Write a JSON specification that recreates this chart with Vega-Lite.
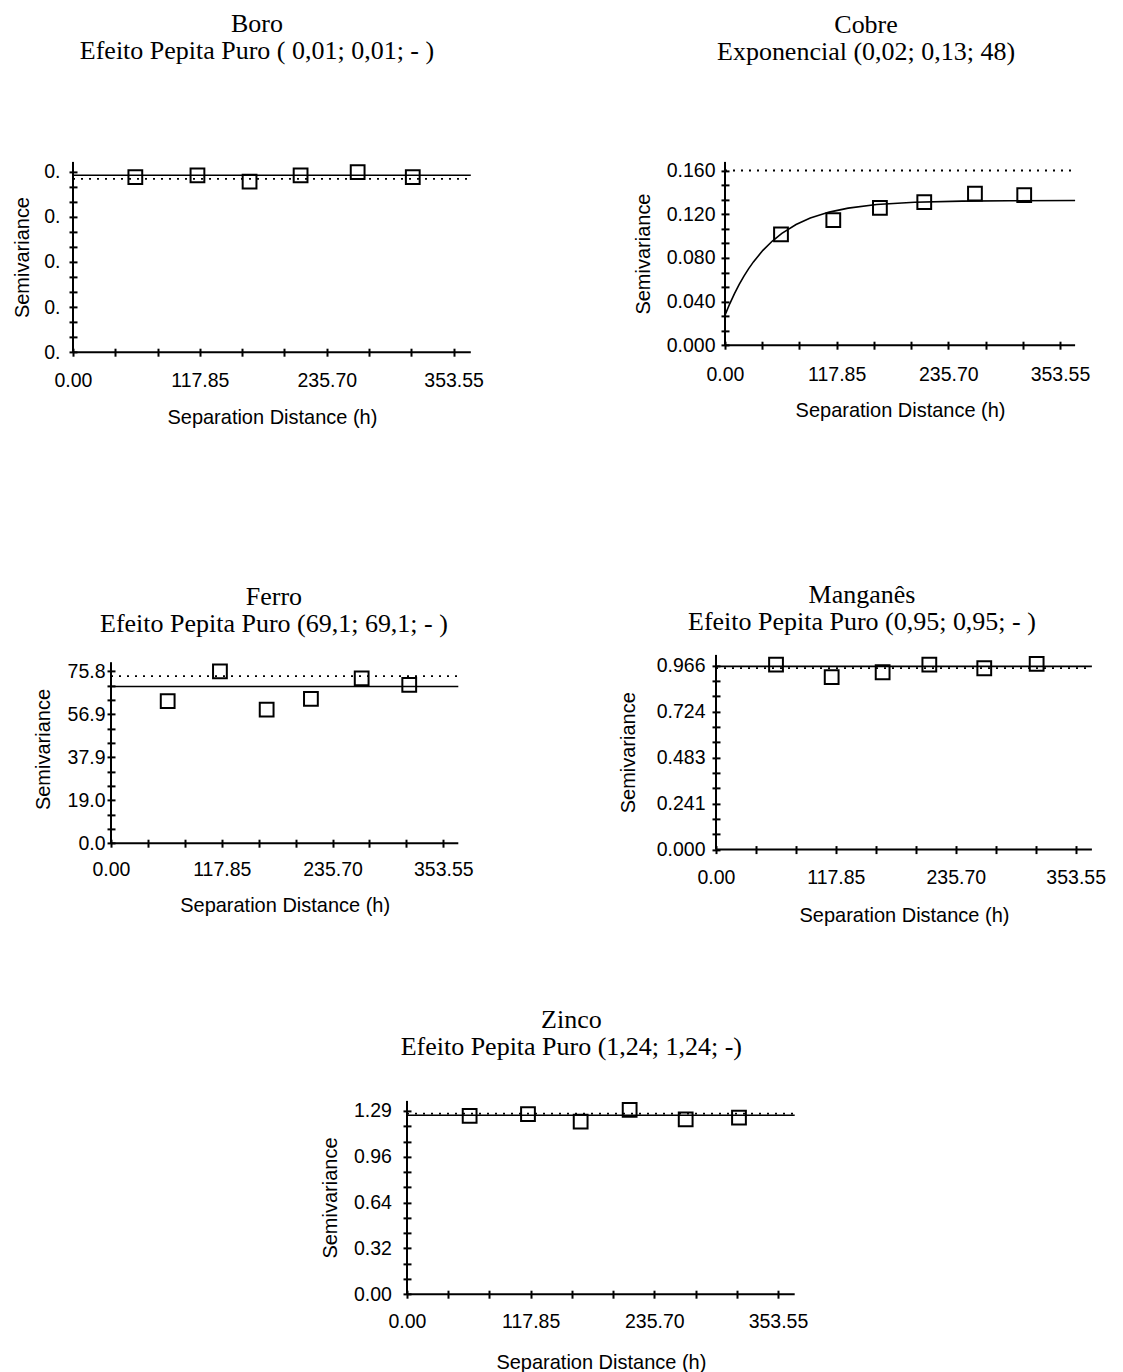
{
  "$schema": "https://vega.github.io/schema/vega-lite/v6.json",
  "background": "white",
  "padding": {"left": 0, "top": 10.9, "right": 0, "bottom": 0},
  "config": {
    "view": {"stroke": null},
    "concat": {"spacing": 0},
    "axis": {
      "labelFont": "Liberation Sans", "labelFontSize": 19.5, "labelColor": "#000",
      "titleFont": "Liberation Sans", "titleFontSize": 20, "titleFontWeight": "normal", "titleColor": "#000",
      "tickColor": "#000", "tickWidth": 2, "tickSize": 8, "offset": -4, "domain": false, "grid": false,
      "labelFlush": false, "labelOverlap": false, "titleBaseline": "middle", "tickCount": 100
    },
    "title": {"font": "Liberation Serif", "fontSize": 26, "fontWeight": "normal", "color": "#000", "lineHeight": 27, "anchor": "middle", "frame": "group"}
  },
  "datasets": {
    "boro": [
      {"serie": "experimental", "h": 57.9, "gamma": 0.009888},
      {"serie": "experimental", "h": 115.6, "gamma": 0.009982},
      {"serie": "experimental", "h": 164.0, "gamma": 0.009634},
      {"serie": "experimental", "h": 211.4, "gamma": 0.009982},
      {"serie": "experimental", "h": 264.4, "gamma": 0.01017},
      {"serie": "experimental", "h": 315.6, "gamma": 0.009888},
      {"serie": "modelo", "h": 0, "gamma": 0.00999},
      {"serie": "modelo", "h": 369.5, "gamma": 0.00999},
      {"serie": "variancia", "h": 0, "gamma": 0.009784},
      {"serie": "variancia", "h": 369.5, "gamma": 0.009784}
    ],
    "cobre": [
      {"serie": "experimental", "h": 59.1, "gamma": 0.1014},
      {"serie": "experimental", "h": 114.3, "gamma": 0.1145},
      {"serie": "experimental", "h": 163.5, "gamma": 0.1258},
      {"serie": "experimental", "h": 210.3, "gamma": 0.1310},
      {"serie": "experimental", "h": 263.8, "gamma": 0.1389},
      {"serie": "experimental", "h": 315.8, "gamma": 0.1374},
      {"serie": "modelo", "h": 0, "gamma": 0.0275},
      {"serie": "modelo", "h": 5, "gamma": 0.0379},
      {"serie": "modelo", "h": 10, "gamma": 0.0473},
      {"serie": "modelo", "h": 15, "gamma": 0.0557},
      {"serie": "modelo", "h": 20, "gamma": 0.0633},
      {"serie": "modelo", "h": 25, "gamma": 0.0701},
      {"serie": "modelo", "h": 30, "gamma": 0.0763},
      {"serie": "modelo", "h": 40, "gamma": 0.0869},
      {"serie": "modelo", "h": 50, "gamma": 0.0954},
      {"serie": "modelo", "h": 60, "gamma": 0.1024},
      {"serie": "modelo", "h": 75, "gamma": 0.1105},
      {"serie": "modelo", "h": 90, "gamma": 0.1164},
      {"serie": "modelo", "h": 110, "gamma": 0.1219},
      {"serie": "modelo", "h": 130, "gamma": 0.1255},
      {"serie": "modelo", "h": 160, "gamma": 0.1288},
      {"serie": "modelo", "h": 200, "gamma": 0.1309},
      {"serie": "modelo", "h": 250, "gamma": 0.1319},
      {"serie": "modelo", "h": 300, "gamma": 0.1323},
      {"serie": "modelo", "h": 369.5, "gamma": 0.1325},
      {"serie": "variancia", "h": 0, "gamma": 0.16},
      {"serie": "variancia", "h": 369.5, "gamma": 0.16}
    ],
    "ferro": [
      {"serie": "experimental", "h": 60.3, "gamma": 62.6},
      {"serie": "experimental", "h": 115.9, "gamma": 75.8},
      {"serie": "experimental", "h": 165.6, "gamma": 58.9},
      {"serie": "experimental", "h": 212.7, "gamma": 63.6},
      {"serie": "experimental", "h": 266.7, "gamma": 72.7},
      {"serie": "experimental", "h": 317.3, "gamma": 69.8},
      {"serie": "modelo", "h": 0, "gamma": 69.1},
      {"serie": "modelo", "h": 369.5, "gamma": 69.1},
      {"serie": "variancia", "h": 0, "gamma": 73.7},
      {"serie": "variancia", "h": 369.5, "gamma": 73.7}
    ],
    "manganes": [
      {"serie": "experimental", "h": 59.0, "gamma": 0.971},
      {"serie": "experimental", "h": 113.7, "gamma": 0.905},
      {"serie": "experimental", "h": 163.8, "gamma": 0.931},
      {"serie": "experimental", "h": 209.7, "gamma": 0.971},
      {"serie": "experimental", "h": 263.7, "gamma": 0.952},
      {"serie": "experimental", "h": 315.2, "gamma": 0.975},
      {"serie": "modelo", "h": 0, "gamma": 0.962},
      {"serie": "modelo", "h": 369.5, "gamma": 0.962},
      {"serie": "variancia", "h": 0, "gamma": 0.953},
      {"serie": "variancia", "h": 369.5, "gamma": 0.953}
    ],
    "zinco": [
      {"serie": "experimental", "h": 59.7, "gamma": 1.255},
      {"serie": "experimental", "h": 115.3, "gamma": 1.267},
      {"serie": "experimental", "h": 165.5, "gamma": 1.215},
      {"serie": "experimental", "h": 212.2, "gamma": 1.297},
      {"serie": "experimental", "h": 265.6, "gamma": 1.231},
      {"serie": "experimental", "h": 316.4, "gamma": 1.243},
      {"serie": "modelo", "h": 0, "gamma": 1.259},
      {"serie": "modelo", "h": 369.5, "gamma": 1.259},
      {"serie": "variancia", "h": 0, "gamma": 1.271},
      {"serie": "variancia", "h": 369.5, "gamma": 1.271}
    ]
  },
  "vconcat": [
    {
      "hconcat": [
        {"width": 12, "height": 420, "data": {"values": []}, "mark": "point", "encoding": {}},
        {
          "width": 397.8, "height": 190.3,
          "data": {"name": "boro"},
          "title": {"text": ["Boro", "Efeito Pepita Puro ( 0,01; 0,01; - )"], "offset": 96.4, "dx": -14.9},
          "layer": [
            {"data": {"values": [{}]}, "mark": {"type": "rule", "color": "#000", "strokeWidth": 2},
             "encoding": {"y": {"datum": 0, "type": "quantitative", "scale": {"domain": [0, 0.010742], "nice": false, "zero": false}}}},
            {"data": {"values": [{}]}, "mark": {"type": "rule", "color": "#000", "strokeWidth": 2},
             "encoding": {"x": {"datum": 0, "type": "quantitative", "scale": {"domain": [0, 369.5], "nice": false, "zero": false}}}},
            {"transform": [{"filter": "datum.serie == 'variancia'"}],
             "mark": {"type": "line", "color": "#000", "strokeWidth": 1.8, "strokeDash": [2, 6]},
             "encoding": {
               "x": {"field": "h", "type": "quantitative", "scale": {"domain": [0, 369.5], "nice": false, "zero": false}},
               "y": {"field": "gamma", "type": "quantitative", "scale": {"domain": [0, 0.010742], "nice": false, "zero": false}}}},
            {"transform": [{"filter": "datum.serie == 'modelo'"}],
             "mark": {"type": "line", "color": "#000", "strokeWidth": 1.6},
             "encoding": {
               "x": {"field": "h", "type": "quantitative", "scale": {"domain": [0, 369.5], "nice": false, "zero": false}},
               "y": {"field": "gamma", "type": "quantitative", "scale": {"domain": [0, 0.010742], "nice": false, "zero": false}}}},
            {"transform": [{"filter": "datum.serie == 'experimental'"}],
             "mark": {"type": "point", "shape": "square", "filled": false, "size": 190, "strokeWidth": 2, "color": "#000", "opacity": 1},
             "encoding": {
               "x": {"field": "h", "type": "quantitative", "title": "Separation Distance (h)",
                     "scale": {"domain": [0, 369.5], "nice": false, "zero": false},
                     "axis": {"values": [0, 39.2833, 78.5667, 117.85, 157.1333, 196.4167, 235.7, 274.9833, 314.2667, 353.55], "tickCount": 100,
                              "labelExpr": "abs(datum.value/117.85 - round(datum.value/117.85)) < 0.001 ? format(datum.value, '.2f') : ''",
                              "labelPadding": 15.3, "titleY": 69.2}},
               "y": {"field": "gamma", "type": "quantitative", "title": "Semivariance",
                     "scale": {"domain": [0, 0.010742], "nice": false, "zero": false},
                     "axis": {"values": [0, 0.00085, 0.0017, 0.00255, 0.0034, 0.00425, 0.0051, 0.00595, 0.0068, 0.00765, 0.0085, 0.00935, 0.0102], "tickCount": 100,
                              "labelExpr": "abs(datum.value/0.00255 - round(datum.value/0.00255)) < 0.01 ? '0.' : ''",
                              "labelPadding": 9, "titleX": -55.0}}}}
          ]
        },
        {"width": 149, "height": 1, "data": {"values": []}, "mark": "point", "encoding": {}},
        {
          "width": 350.1, "height": 183.3,
          "data": {"name": "cobre"},
          "title": {"text": ["Cobre", "Exponencial (0,02; 0,13; 48)"], "offset": 95.4, "dx": -34},
          "layer": [
            {"data": {"values": [{}]}, "mark": {"type": "rule", "color": "#000", "strokeWidth": 2},
             "encoding": {"y": {"datum": 0, "type": "quantitative", "scale": {"domain": [0, 0.16787], "nice": false, "zero": false}}}},
            {"data": {"values": [{}]}, "mark": {"type": "rule", "color": "#000", "strokeWidth": 2},
             "encoding": {"x": {"datum": 0, "type": "quantitative", "scale": {"domain": [0, 369.5], "nice": false, "zero": false}}}},
            {"transform": [{"filter": "datum.serie == 'variancia'"}],
             "mark": {"type": "line", "color": "#000", "strokeWidth": 1.8, "strokeDash": [2, 6]},
             "encoding": {
               "x": {"field": "h", "type": "quantitative", "scale": {"domain": [0, 369.5], "nice": false, "zero": false}},
               "y": {"field": "gamma", "type": "quantitative", "scale": {"domain": [0, 0.16787], "nice": false, "zero": false}}}},
            {"transform": [{"filter": "datum.serie == 'modelo'"}],
             "mark": {"type": "line", "color": "#000", "strokeWidth": 1.6},
             "encoding": {
               "x": {"field": "h", "type": "quantitative", "scale": {"domain": [0, 369.5], "nice": false, "zero": false}},
               "y": {"field": "gamma", "type": "quantitative", "scale": {"domain": [0, 0.16787], "nice": false, "zero": false}}}},
            {"transform": [{"filter": "datum.serie == 'experimental'"}],
             "mark": {"type": "point", "shape": "square", "filled": false, "size": 190, "strokeWidth": 2, "color": "#000", "opacity": 1},
             "encoding": {
               "x": {"field": "h", "type": "quantitative", "title": "Separation Distance (h)",
                     "scale": {"domain": [0, 369.5], "nice": false, "zero": false},
                     "axis": {"values": [0, 39.2833, 78.5667, 117.85, 157.1333, 196.4167, 235.7, 274.9833, 314.2667, 353.55], "tickCount": 100,
                              "labelExpr": "abs(datum.value/117.85 - round(datum.value/117.85)) < 0.001 ? format(datum.value, '.2f') : ''",
                              "labelPadding": 16.3, "titleY": 69.5}},
               "y": {"field": "gamma", "type": "quantitative", "title": "Semivariance",
                     "scale": {"domain": [0, 0.16787], "nice": false, "zero": false},
                     "axis": {"values": [0, 0.013333, 0.026667, 0.04, 0.053333, 0.066667, 0.08, 0.093333, 0.106667, 0.12, 0.133333, 0.146667, 0.16], "tickCount": 100,
                              "labelExpr": "abs(datum.value/0.04 - round(datum.value/0.04)) < 0.01 ? format(datum.value, '.3f') : ''",
                              "labelPadding": 6, "titleX": -85.3}}}}
          ]
        }
      ],
      "spacing": 0
    },
    {
      "hconcat": [
        {"width": 33, "height": 351, "data": {"values": []}, "mark": "point", "encoding": {}},
        {
          "width": 347.3, "height": 188.3,
          "data": {"name": "ferro"},
          "title": {"text": ["Ferro", "Efeito Pepita Puro (69,1; 69,1; - )"], "offset": 17.8, "dx": -10.7},
          "layer": [
            {"data": {"values": [{}]}, "mark": {"type": "rule", "color": "#000", "strokeWidth": 2},
             "encoding": {"y": {"datum": 0, "type": "quantitative", "scale": {"domain": [0, 83.03], "nice": false, "zero": false}}}},
            {"data": {"values": [{}]}, "mark": {"type": "rule", "color": "#000", "strokeWidth": 2},
             "encoding": {"x": {"datum": 0, "type": "quantitative", "scale": {"domain": [0, 369.5], "nice": false, "zero": false}},
                          "y": {"datum": 0, "type": "quantitative", "scale": {"domain": [0, 83.03], "nice": false, "zero": false}},
                          "y2": {"datum": 79.81}}},
            {"transform": [{"filter": "datum.serie == 'variancia'"}],
             "mark": {"type": "line", "color": "#000", "strokeWidth": 1.8, "strokeDash": [2, 6]},
             "encoding": {
               "x": {"field": "h", "type": "quantitative", "scale": {"domain": [0, 369.5], "nice": false, "zero": false}},
               "y": {"field": "gamma", "type": "quantitative", "scale": {"domain": [0, 83.03], "nice": false, "zero": false}}}},
            {"transform": [{"filter": "datum.serie == 'modelo'"}],
             "mark": {"type": "line", "color": "#000", "strokeWidth": 1.6},
             "encoding": {
               "x": {"field": "h", "type": "quantitative", "scale": {"domain": [0, 369.5], "nice": false, "zero": false}},
               "y": {"field": "gamma", "type": "quantitative", "scale": {"domain": [0, 83.03], "nice": false, "zero": false}}}},
            {"transform": [{"filter": "datum.serie == 'experimental'"}],
             "mark": {"type": "point", "shape": "square", "filled": false, "size": 190, "strokeWidth": 2, "color": "#000", "opacity": 1},
             "encoding": {
               "x": {"field": "h", "type": "quantitative", "title": "Separation Distance (h)",
                     "scale": {"domain": [0, 369.5], "nice": false, "zero": false},
                     "axis": {"values": [0, 39.2833, 78.5667, 117.85, 157.1333, 196.4167, 235.7, 274.9833, 314.2667, 353.55], "tickCount": 100,
                              "labelExpr": "abs(datum.value/117.85 - round(datum.value/117.85)) < 0.001 ? format(datum.value, '.2f') : ''",
                              "labelPadding": 13.7, "titleY": 66.6}},
               "y": {"field": "gamma", "type": "quantitative", "title": "Semivariance",
                     "scale": {"domain": [0, 83.03], "nice": false, "zero": false},
                     "axis": {"values": [0, 6.32, 12.64, 18.96, 25.28, 31.6, 37.92, 44.24, 50.56, 56.88, 63.2, 69.52, 75.84], "tickCount": 100,
                              "labelExpr": "abs(datum.value/18.96 - round(datum.value/18.96)) < 0.01 ? format(datum.value, '.1f') : ''",
                              "labelPadding": 2, "titleX": -71.3}}}}
          ]
        },
        {"width": 144, "height": 1, "data": {"values": []}, "mark": "point", "encoding": {}},
        {
          "width": 375.9, "height": 194.7,
          "data": {"name": "manganes"},
          "title": {"text": ["Manganês", "Efeito Pepita Puro (0,95; 0,95; - )"], "offset": 17.8, "dx": -42},
          "layer": [
            {"data": {"values": [{}]}, "mark": {"type": "rule", "color": "#000", "strokeWidth": 2},
             "encoding": {"y": {"datum": 0, "type": "quantitative", "scale": {"domain": [0, 1.0222], "nice": false, "zero": false}}}},
            {"data": {"values": [{}]}, "mark": {"type": "rule", "color": "#000", "strokeWidth": 2},
             "encoding": {"x": {"datum": 0, "type": "quantitative", "scale": {"domain": [0, 369.5], "nice": false, "zero": false}}}},
            {"transform": [{"filter": "datum.serie == 'variancia'"}],
             "mark": {"type": "line", "color": "#000", "strokeWidth": 1.8, "strokeDash": [2, 6]},
             "encoding": {
               "x": {"field": "h", "type": "quantitative", "scale": {"domain": [0, 369.5], "nice": false, "zero": false}},
               "y": {"field": "gamma", "type": "quantitative", "scale": {"domain": [0, 1.0222], "nice": false, "zero": false}}}},
            {"transform": [{"filter": "datum.serie == 'modelo'"}],
             "mark": {"type": "line", "color": "#000", "strokeWidth": 1.6},
             "encoding": {
               "x": {"field": "h", "type": "quantitative", "scale": {"domain": [0, 369.5], "nice": false, "zero": false}},
               "y": {"field": "gamma", "type": "quantitative", "scale": {"domain": [0, 1.0222], "nice": false, "zero": false}}}},
            {"transform": [{"filter": "datum.serie == 'experimental'"}],
             "mark": {"type": "point", "shape": "square", "filled": false, "size": 190, "strokeWidth": 2, "color": "#000", "opacity": 1},
             "encoding": {
               "x": {"field": "h", "type": "quantitative", "title": "Separation Distance (h)",
                     "scale": {"domain": [0, 369.5], "nice": false, "zero": false},
                     "axis": {"values": [0, 39.2833, 78.5667, 117.85, 157.1333, 196.4167, 235.7, 274.9833, 314.2667, 353.55], "tickCount": 100,
                              "labelExpr": "abs(datum.value/117.85 - round(datum.value/117.85)) < 0.001 ? format(datum.value, '.2f') : ''",
                              "labelPadding": 14.6, "titleY": 69.5}},
               "y": {"field": "gamma", "type": "quantitative", "title": "Semivariance",
                     "scale": {"domain": [0, 1.0222], "nice": false, "zero": false},
                     "axis": {"values": [0, 0.0805, 0.161, 0.2415, 0.322, 0.4025, 0.483, 0.5635, 0.644, 0.7245, 0.805, 0.8855, 0.966], "tickCount": 100,
                              "labelExpr": "abs(datum.value/0.2415 - round(datum.value/0.2415)) < 0.01 ? format(floor(datum.value*1000 + 0.001)/1000, '.3f') : ''",
                              "labelPadding": 7, "titleX": -91.3}}}}
          ]
        }
      ],
      "spacing": 0
    },
    {
      "hconcat": [
        {"width": 320, "height": 10, "data": {"values": []}, "mark": "point", "encoding": {}},
        {
          "width": 387.7, "height": 193.3,
          "data": {"name": "zinco"},
          "title": {"text": ["Zinco", "Efeito Pepita Puro (1,24; 1,24; -)"], "offset": 39.3, "dx": -29.5},
          "layer": [
            {"data": {"values": [{}]}, "mark": {"type": "rule", "color": "#000", "strokeWidth": 2},
             "encoding": {"y": {"datum": 0, "type": "quantitative", "scale": {"domain": [0, 1.3604], "nice": false, "zero": false}}}},
            {"data": {"values": [{}]}, "mark": {"type": "rule", "color": "#000", "strokeWidth": 2},
             "encoding": {"x": {"datum": 0, "type": "quantitative", "scale": {"domain": [0, 369.5], "nice": false, "zero": false}}}},
            {"transform": [{"filter": "datum.serie == 'variancia'"}],
             "mark": {"type": "line", "color": "#000", "strokeWidth": 1.8, "strokeDash": [2, 6]},
             "encoding": {
               "x": {"field": "h", "type": "quantitative", "scale": {"domain": [0, 369.5], "nice": false, "zero": false}},
               "y": {"field": "gamma", "type": "quantitative", "scale": {"domain": [0, 1.3604], "nice": false, "zero": false}}}},
            {"transform": [{"filter": "datum.serie == 'modelo'"}],
             "mark": {"type": "line", "color": "#000", "strokeWidth": 1.6},
             "encoding": {
               "x": {"field": "h", "type": "quantitative", "scale": {"domain": [0, 369.5], "nice": false, "zero": false}},
               "y": {"field": "gamma", "type": "quantitative", "scale": {"domain": [0, 1.3604], "nice": false, "zero": false}}}},
            {"transform": [{"filter": "datum.serie == 'experimental'"}],
             "mark": {"type": "point", "shape": "square", "filled": false, "size": 190, "strokeWidth": 2, "color": "#000", "opacity": 1},
             "encoding": {
               "x": {"field": "h", "type": "quantitative", "title": "Separation Distance (h)",
                     "scale": {"domain": [0, 369.5], "nice": false, "zero": false},
                     "axis": {"values": [0, 39.2833, 78.5667, 117.85, 157.1333, 196.4167, 235.7, 274.9833, 314.2667, 353.55], "tickCount": 100,
                              "labelExpr": "abs(datum.value/117.85 - round(datum.value/117.85)) < 0.001 ? format(datum.value, '.2f') : ''",
                              "labelPadding": 14.7, "titleY": 71.9}},
               "y": {"field": "gamma", "type": "quantitative", "title": "Semivariance",
                     "scale": {"domain": [0, 1.3604], "nice": false, "zero": false},
                     "axis": {"values": [0, 0.1075, 0.215, 0.3225, 0.43, 0.5375, 0.645, 0.7525, 0.86, 0.9675, 1.075, 1.1825, 1.29], "tickCount": 100,
                              "labelExpr": "abs(datum.value/0.3225 - round(datum.value/0.3225)) < 0.01 ? format(floor(datum.value*100 + 0.001)/100, '.2f') : ''",
                              "labelPadding": 11.6, "titleX": -80.1}}}}
          ]
        }
      ],
      "spacing": 0
    }
  ],
  "spacing": 0
}
